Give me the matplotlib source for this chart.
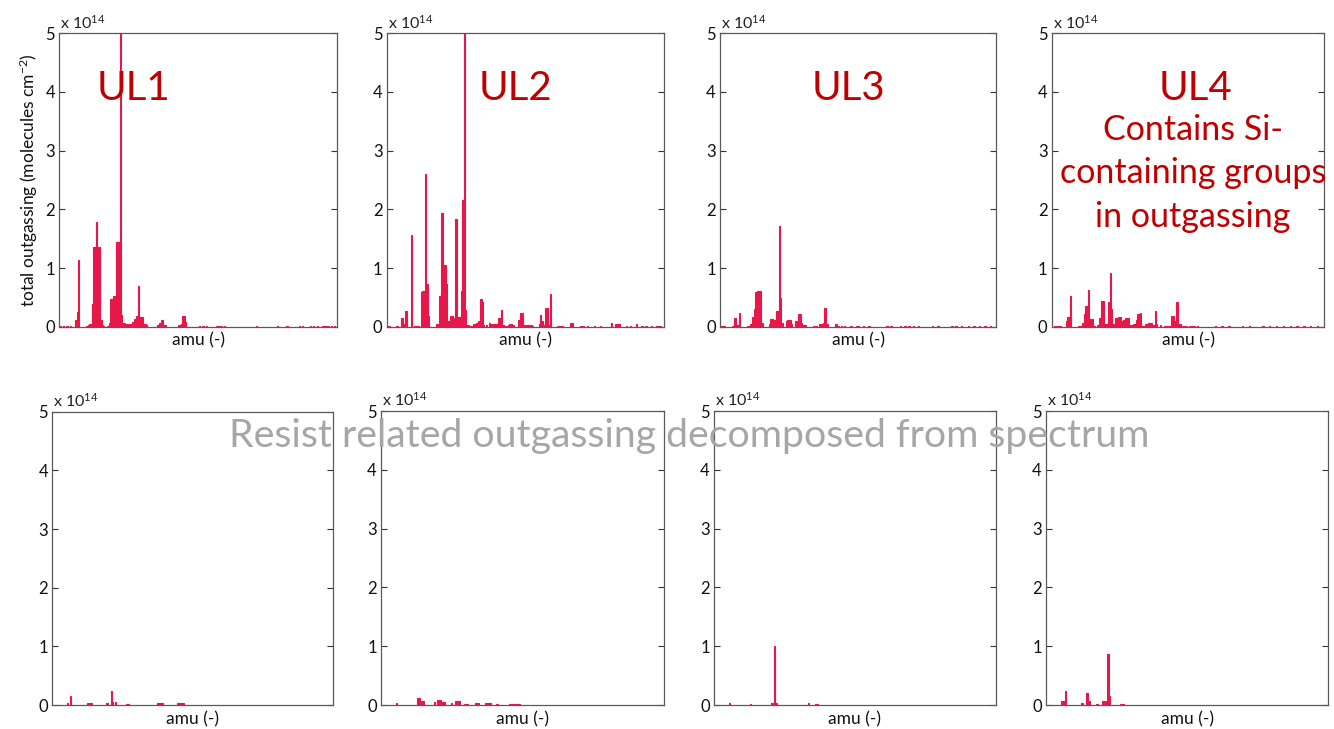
import matplotlib
matplotlib.use("Agg")
import matplotlib.pyplot as plt

plt.rcParams['font.family'] = ['Lato', 'DejaVu Sans']
plt.rcParams['mathtext.fontset'] = 'custom'
plt.rcParams['mathtext.rm'] = 'Lato'
plt.rcParams['mathtext.default'] = 'regular'

# spectra in units of 1e14 molecules/cm^2, keyed by amu
ul1_amu = [1, 3, 5, 6, 8, 12, 13, 14, 20, 21, 22, 23, 24, 25, 26, 27, 28, 29, 30, 31, 32,
           35, 36, 37, 38, 39, 40, 41, 42, 43, 44, 45, 46, 47, 48, 49, 50, 51, 52, 53,
           54, 55, 56, 57, 58, 59, 60, 61, 62, 63, 71, 72, 73, 74, 75, 76, 86, 87, 88,
           89, 90, 91, 101, 103, 104, 106, 113, 115, 117, 119, 142, 157, 164, 173, 175,
           181, 183, 186, 190, 192, 194, 196, 198]
ul1_val = [0.02, 0.02, 0.02, 0.02, 0.02, 0.11, 0.25, 1.13, 0.02, 0.03, 0.04, 0.05, 0.39, 1.36,
           1.36, 1.79, 1.35, 1.35, 0.11, 0.03, 0.02,
           0.02, 0.07, 0.48, 0.48, 0.53, 0.53, 1.44, 1.44, 1.44, 5.0, 0.2, 0.06, 0.06, 0.04,
           0.05, 0.05, 0.04, 0.05, 0.08,
           0.13, 0.13, 0.18, 0.7, 0.17, 0.17, 0.17, 0.05, 0.04, 0.03, 0.03, 0.06, 0.06, 0.12,
           0.03, 0.03, 0.03, 0.03, 0.04,
           0.19, 0.19, 0.08, 0.02, 0.02, 0.02, 0.02, 0.02, 0.02, 0.02, 0.02, 0.02, 0.02, 0.02,
           0.02, 0.02, 0.02, 0.02, 0.02, 0.02, 0.02, 0.02, 0.02, 0.02]

ul2_amu = [1, 2, 7, 8, 11, 12, 13, 14, 18, 20, 21, 22, 23, 25, 26, 27, 28, 29, 30,
           36, 37, 38, 39, 40, 41, 42, 43, 44, 45, 46, 47, 48, 49, 50, 51, 52, 53, 54, 55,
           56, 57, 58, 59, 60, 61, 63, 64, 65, 66, 67, 68, 69, 70, 72, 74, 75, 76, 77, 78,
           79, 80, 81, 82, 83, 84, 85, 86, 88, 89, 90, 91, 95, 96, 97, 98, 99, 101, 102,
           104, 105, 110, 111, 112, 113, 115, 116, 117, 118, 123, 125, 127, 133, 134, 140,
           142, 145, 150, 154, 162, 165, 166, 167, 168, 173, 176, 180, 184, 187, 191, 195, 197]
ul2_val = [0.02, 0.02, 0.02, 0.02, 0.15, 0.04, 0.04, 0.27, 1.56, 0.02, 0.02, 0.02, 0.02, 0.59,
           0.6, 0.6, 2.61, 0.73, 0.19,
           0.05, 0.05, 0.53, 0.53, 1.93, 1.05, 1.05, 0.73, 0.1, 0.1, 0.19, 0.19, 0.15, 0.04,
           1.84, 0.17, 0.17, 0.17, 0.6, 2.16,
           5.0, 0.28, 0.03, 0.03, 0.02, 0.02, 0.04, 0.04, 0.07, 0.1, 0.1, 0.47, 0.42, 0.03,
           0.03, 0.06, 0.05, 0.05, 0.05, 0.05,
           0.05, 0.05, 0.15, 0.15, 0.28, 0.03, 0.02, 0.02, 0.03, 0.04, 0.04, 0.03, 0.12, 0.12,
           0.23, 0.23, 0.03, 0.03, 0.03,
           0.03, 0.02, 0.04, 0.2, 0.1, 0.03, 0.32, 0.32, 0.03, 0.56, 0.02, 0.02, 0.02, 0.07,
           0.07, 0.02,
           0.02, 0.02, 0.02, 0.02, 0.07, 0.04, 0.04, 0.04, 0.04, 0.02, 0.02, 0.04, 0.02, 0.02,
           0.02, 0.02, 0.02]

ul3_amu = [1, 2, 3, 9, 10, 11, 12, 13, 14, 20, 21, 22, 23, 24, 25, 26, 27, 28, 29, 30, 31,
           36, 37, 38, 39, 40, 41, 42, 43, 44, 45, 48, 49, 50, 51, 52, 55, 56, 57, 58, 59,
           60, 61, 62, 68, 70, 72, 73, 74, 75, 76, 77, 78, 84, 86, 88, 90, 95, 99, 100, 104,
           108, 121, 124, 131, 134, 137, 140, 144, 154, 158, 168, 171, 175, 180, 184, 188,
           192, 196]
ul3_val = [0.02, 0.02, 0.02, 0.02, 0.02, 0.14, 0.03, 0.03, 0.23, 0.02, 0.02, 0.04, 0.04, 0.16,
           0.3, 0.59, 0.6, 0.61, 0.61, 0.06, 0.06,
           0.04, 0.13, 0.13, 0.12, 0.12, 0.27, 0.27, 1.71, 0.49, 0.06, 0.09, 0.11, 0.11, 0.11,
           0.04, 0.1, 0.1, 0.21, 0.21, 0.06,
           0.03, 0.03, 0.03, 0.02, 0.02, 0.04, 0.04, 0.04, 0.07, 0.32, 0.05, 0.05, 0.04, 0.02,
           0.02, 0.02, 0.02, 0.02, 0.02, 0.015,
           0.015, 0.015, 0.015, 0.015, 0.015, 0.015, 0.015, 0.015, 0.015, 0.015, 0.015, 0.015,
           0.015, 0.015, 0.015, 0.015, 0.015, 0.015]

ul4_amu = [2, 4, 5, 6, 11, 12, 13, 14, 20, 21, 22, 23, 24, 25, 26, 27, 28, 29, 30, 31,
           34, 35, 36, 37, 38, 39, 40, 41, 42, 43, 44, 45, 46, 47, 48, 49, 50, 51, 52, 53,
           54, 55, 56, 57, 58, 59, 60, 61, 62, 63, 64, 65, 66, 67, 68, 69, 70, 71, 72, 73,
           74, 75, 76, 77, 80, 83, 84, 86, 87, 88, 89, 90, 91, 92, 94, 95, 97, 99, 101, 103,
           105, 107, 120, 125, 130, 140, 145, 155, 160, 165, 170, 175, 180, 185, 190, 195]
ul4_val = [0.01, 0.01, 0.01, 0.01, 0.1, 0.16, 0.16, 0.52, 0.01, 0.01, 0.01, 0.07, 0.21, 0.35,
           0.35, 0.63, 0.13, 0.13, 0.13, 0.02,
           0.03, 0.15, 0.15, 0.44, 0.44, 0.04, 0.04, 0.04, 0.42, 0.91, 0.3, 0.04, 0.04, 0.15,
           0.15, 0.17, 0.17, 0.1, 0.1, 0.12,
           0.14, 0.14, 0.14, 0.03, 0.03, 0.03, 0.04, 0.04, 0.11, 0.21, 0.21, 0.24, 0.02, 0.02,
           0.02, 0.05, 0.05, 0.07, 0.07, 0.07,
           0.03, 0.03, 0.26, 0.04, 0.03, 0.02, 0.02, 0.02, 0.02, 0.18, 0.18, 0.1, 0.1, 0.42,
           0.04, 0.01, 0.01, 0.01, 0.01, 0.01,
           0.01, 0.01, 0.01, 0.01, 0.01, 0.01, 0.01, 0.01, 0.01, 0.01, 0.01, 0.01, 0.01, 0.01,
           0.01, 0.01]

# resist-related part of each spectrum
res1_amu = [11, 13, 25, 26, 27, 28, 39, 42, 43, 45, 53, 54, 75, 76, 77, 78, 89, 90, 91, 92, 93]
res1_val = [0.04, 0.15, 0.03, 0.03, 0.03, 0.03, 0.03, 0.24, 0.05, 0.05, 0.02, 0.02, 0.03, 0.03,
            0.03, 0.03, 0.03, 0.03, 0.03, 0.03, 0.03]

res2_amu = [11, 26, 27, 28, 29, 30, 38, 40, 41, 42, 43, 44, 45, 50, 53, 54, 55, 59, 60, 61,
            67, 68, 69, 74, 75, 76, 77, 82, 91, 92, 93, 94, 95, 96, 97, 98]
res2_val = [0.04, 0.12, 0.12, 0.06, 0.06, 0.06, 0.05, 0.08, 0.08, 0.08, 0.05, 0.05, 0.05, 0.04,
            0.06, 0.06, 0.06, 0.02, 0.02, 0.02,
            0.04, 0.04, 0.04, 0.03, 0.03, 0.03, 0.03, 0.02, 0.02, 0.02, 0.02, 0.02, 0.02, 0.02,
            0.02, 0.02]

res3_amu = [11, 26, 41, 43, 44, 67, 72, 73]
res3_val = [0.03, 0.02, 0.03, 1.0, 0.03, 0.04, 0.02, 0.02]

res4_amu = [11, 12, 14, 25, 26, 29, 30, 31, 36, 40, 41, 43, 44, 45, 53, 54, 55]
res4_val = [0.06, 0.06, 0.24, 0.03, 0.03, 0.2, 0.06, 0.06, 0.02, 0.07, 0.07, 0.07, 0.86, 0.15,
            0.02, 0.02, 0.02]

panels = [
    (ul1_amu, ul1_val), (ul2_amu, ul2_val), (ul3_amu, ul3_val), (ul4_amu, ul4_val),
    (res1_amu, res1_val), (res2_amu, res2_val), (res3_amu, res3_val), (res4_amu, res4_val),
]

# axes boxes in pixels: left, right, top, bottom
W, H = 1334, 729
boxes = [
    (59.3, 337.0, 33.3, 326.7), (386.7, 664.0, 33.3, 326.7),
    (720.0, 996.0, 33.3, 326.7), (1051.7, 1324.3, 33.3, 326.7),
    (52.3, 333.3, 411.7, 705.0), (381.0, 664.0, 411.0, 705.0),
    (714.0, 996.0, 411.0, 705.0), (1046.0, 1328.3, 411.0, 705.0),
]

bar_color = '#E8174A'
title_red = '#C00000'

fig = plt.figure(figsize=(W / 100, H / 100), dpi=100)

for i, ((amu, val), (l, r, t, b)) in enumerate(zip(panels, boxes)):
    ax = fig.add_axes([l / W, 1 - b / H, (r - l) / W, (b - t) / H])
    ax.bar(amu, val, width=1.0, color=bar_color, edgecolor=bar_color, linewidth=0.8)
    ax.set_xlim(0, 200)
    ax.set_ylim(0, 5)
    ax.set_xticks([])
    ax.set_yticks([0, 1, 2, 3, 4, 5])
    ax.tick_params(axis='y', direction='in', length=4, width=0.8, right=True,
                   labelsize=12, pad=3, colors='#333333', labelcolor='#111111')
    for s in ax.spines.values():
        s.set_color('#5a5a5a')
        s.set_linewidth(0.9)
    hpx = b - t
    ax.text(0.004, 1 + 5 / hpx, 'x 10$^{14}$', transform=ax.transAxes,
            ha='left', va='baseline', fontsize=11.5, color='#222222')
    ax.text(0.5, -19 / hpx, 'amu (-)', transform=ax.transAxes,
            ha='center', va='baseline', fontsize=12.5, color='#111111')
    if i == 0:
        ax.text(-31 / (r - l), 0.5, 'total outgassing (molecules cm$^{-2}$)',
                transform=ax.transAxes, rotation=90, ha='center', va='center',
                fontsize=12.5, color='#111111')

# sample names
for x, name in [(134, 'UL1'), (515, 'UL2'), (848, 'UL3'), (1196, 'UL4')]:
    fig.text(x / W, 1 - 100 / H, name, ha='center', va='baseline',
             fontsize=29, color=title_red)

for y, line in [(140, 'Contains Si-'), (183, 'containing groups'), (227, 'in outgassing')]:
    fig.text(1193 / W, 1 - y / H, line, ha='center', va='baseline',
             fontsize=24.5, color=title_red)

fig.text(689 / W, 1 - 447 / H, 'Resist related outgassing decomposed from spectrum',
         ha='center', va='baseline', fontsize=28.3, color='#A6A6A6')

fig.savefig('out.png', dpi=100)
